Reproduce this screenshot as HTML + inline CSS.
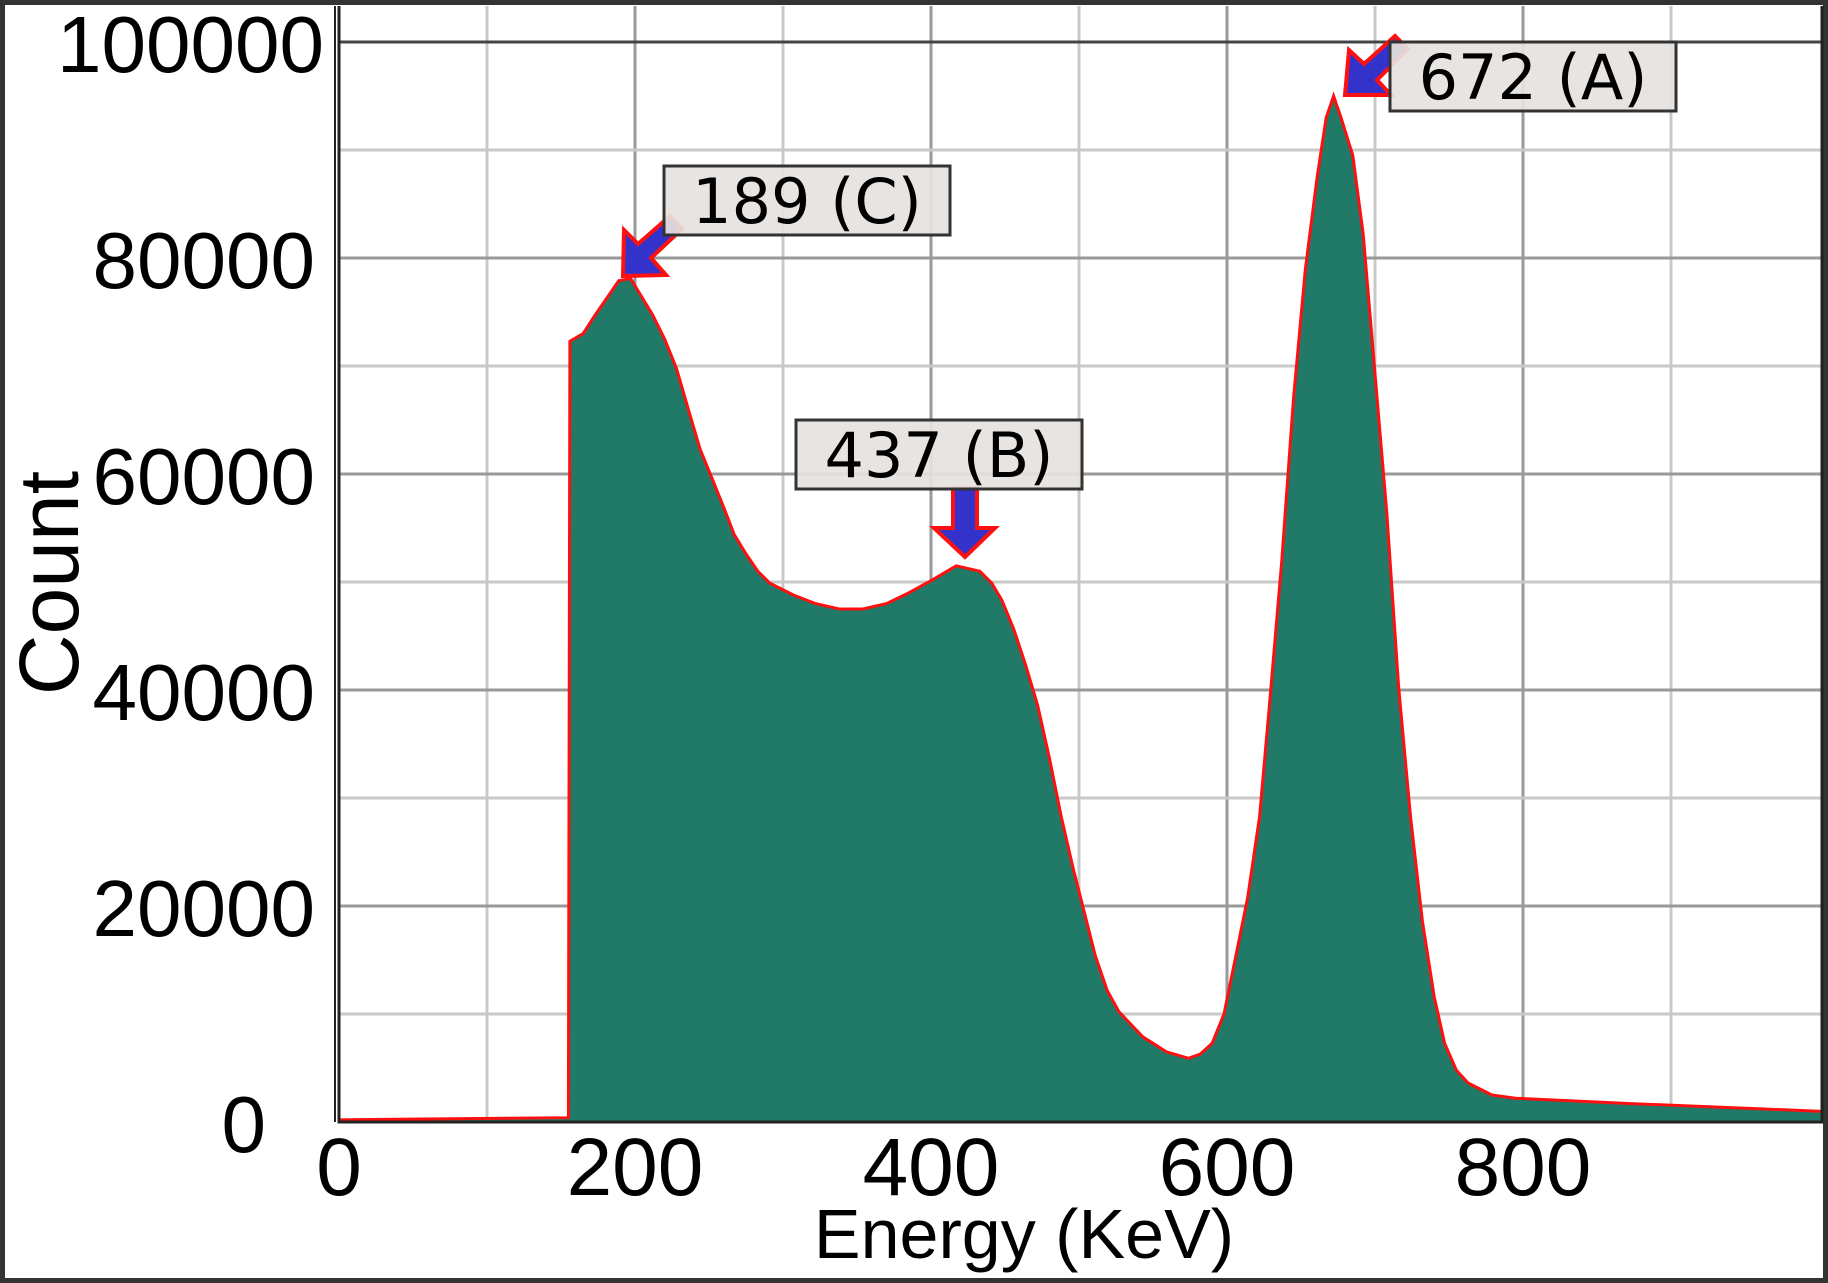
<!DOCTYPE html>
<html><head><meta charset="utf-8"><style>
html,body{margin:0;padding:0;background:#fff}
svg{display:block;font-family:"Liberation Sans",sans-serif}
</style></head><body>
<svg id="chart" width="1828" height="1283" viewBox="0 0 1828 1283">
<rect x="2.5" y="2.5" width="1823" height="1278" fill="#fff" stroke="#333" stroke-width="5"/>
<g id="grid"></g>
<g id="series"></g>
<g id="axes"></g>
<g id="ann"></g>
<text x="1024" y="1258" font-size="70" text-anchor="middle">Energy (KeV)</text>
<text transform="translate(78,583) rotate(-90)" font-size="84" text-anchor="middle">Count</text>
</svg>
<script>
const energies = [0,155,156,165,173,181,189,197,205,212,220,228,236,244,252,260,267,275,283,291,307,322,338,354,370,385,401,417,433,441,448,456,464,472,480,488,496,504,511,519,527,543,559,574,582,590,598,606,614,622,629,637,645,653,661,667,672,677,685,692,700,708,716,724,732,740,747,755,763,779,795,873,1000];
const counts = [200,400,72300,73000,74700,76300,77900,78100,76300,74700,72500,69800,66000,62300,59600,56900,54400,52600,51000,49900,48800,48000,47500,47500,48000,49000,50200,51500,51000,49900,48300,45600,42300,38600,33700,28300,23500,19200,15400,12200,10200,7900,6500,5900,6300,7300,10000,15400,20800,28300,39100,52000,67100,79000,87600,93000,95000,93000,89500,82200,69300,56400,40200,28300,18600,11600,7300,4800,3600,2500,2200,1700,1000];
const xTicks = [0,200,400,600,800];
const yTicks = [0,20000,40000,60000,80000,100000];
const annLabels = ["672 (A)","437 (B)","189 (C)"];
const annEnergies = [672,437,189];

const X0=339, XS=1.48, Y0=1122, YS=0.0108;
const xs=e=>X0+e*XS, ys=v=>Y0-v*YS;
const NS="http://www.w3.org/2000/svg";
function mk(tag,attrs,parent){const el=document.createElementNS(NS,tag);for(const k in attrs)el.setAttribute(k,attrs[k]);parent.appendChild(el);return el;}
const grid=document.getElementById('grid'),series=document.getElementById('series'),axes=document.getElementById('axes'),ann=document.getElementById('ann');
const RIGHT=1822, TOP=6;
for(let e=100;e<=900;e+=100){
  const l=mk('line',{x1:xs(e),x2:xs(e),y1:TOP,y2:Y0,stroke:e%200===0?'#999':'#c8c8c8','stroke-width':3},grid);
  
  
}
for(let v=10000;v<=100000;v+=10000){
  const l=mk('line',{x1:X0,x2:RIGHT,y1:ys(v),y2:ys(v),stroke:v===100000?'#444':(v%20000===0?'#999':'#c8c8c8'),'stroke-width':3},grid);
  
  
}
let d='M'+xs(energies[0])+','+Y0;
for(let i=0;i<energies.length;i++){d+=' L'+xs(energies[i]).toFixed(1)+','+ys(counts[i]).toFixed(1);}
d+=' L'+RIGHT+','+ys(counts[counts.length-1]).toFixed(1);
const area=mk('path',{d:d+' L'+RIGHT+','+Y0+' Z',fill:'#217a68'},series);


const line=mk('path',{d:d,fill:'none',stroke:'#ff1010','stroke-width':3,'stroke-linejoin':'miter'},series);


const ax=mk('path',{d:'M'+X0+','+TOP+' V'+Y0+' H'+RIGHT+' V'+TOP,fill:'none',stroke:'#222','stroke-width':3},axes);


const ax2=mk('line',{x1:X0-4,x2:X0-4,y1:TOP,y2:Y0,stroke:'#222','stroke-width':2},axes);


xTicks.forEach(t=>{
  const tx=mk('text',{x:xs(t),y:1195,'font-size':82,'text-anchor':'middle'},axes);tx.textContent=t;
  
  
});
yTicks.forEach(t=>{
  const right = t===0 ? 266 : (t===100000 ? 324 : 315);
  const tx=mk('text',{x:right,y:ys(t)+30,'font-size':80,'text-anchor':'end'},axes);tx.textContent=t;
  
  
});
const boxes=[[1390,42],[796,420],[664,166]];
const arrows=[
 'M1345,95 L1349,50 L1364,64 L1395,36 L1408,49 L1377,80 L1391,95 Z',
 'M953,488 L977,488 L977,528 L995,528 L965,557 L934,528 L953,528 Z',
 'M623,276 L624,230 L638,244 L670,216 L682,229 L651,258 L666,275 Z'
];
annLabels.forEach((lab,i)=>{
  const a=mk('path',{d:arrows[i],fill:'#3333cc',stroke:'#ff1010','stroke-width':4},ann);
  
  
  const r=mk('rect',{x:boxes[i][0],y:boxes[i][1],width:286,height:69,fill:'#e6e2e0','fill-opacity':0.92,stroke:'#333','stroke-width':3},ann);
  
  
  const t=mk('text',{x:boxes[i][0]+143,y:boxes[i][1]+57,'font-size':62,'text-anchor':'middle','font-family':'"DejaVu Sans",sans-serif'},ann);t.textContent=lab;
  
  
});
</script>
</body></html>
